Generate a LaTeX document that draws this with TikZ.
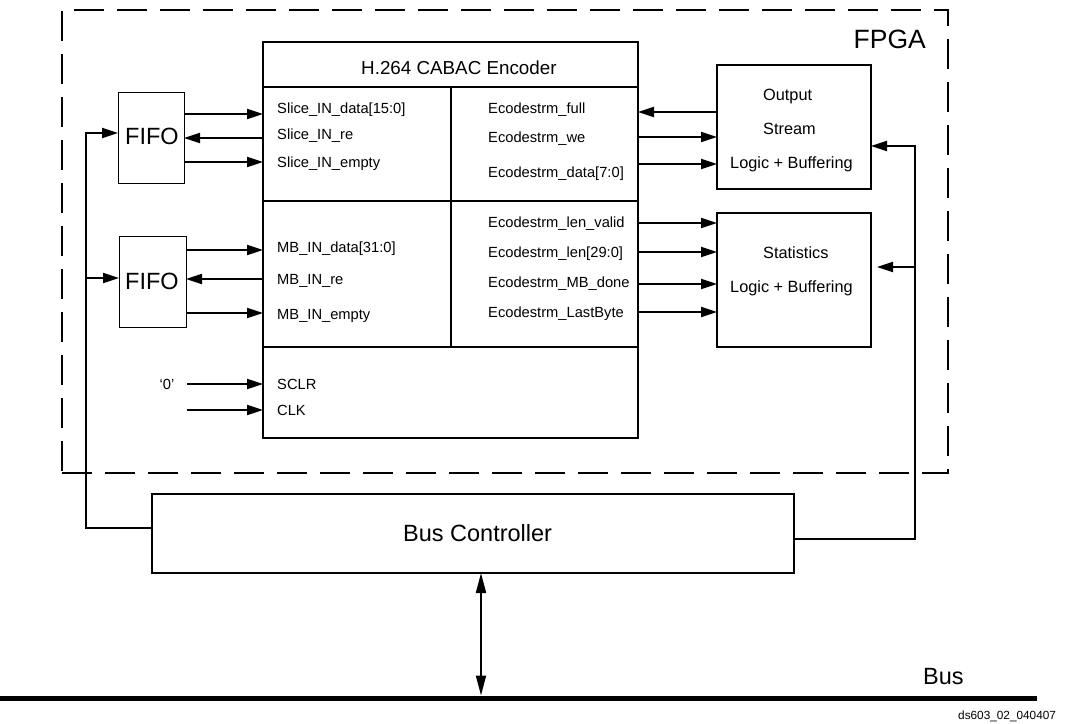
\documentclass[tikz,border=0pt]{standalone}
\usepackage{fontspec}
\setmainfont{Liberation Sans}
\usetikzlibrary{arrows.meta}
\begin{document}
\begin{tikzpicture}[x=1pt,y=-1pt,
  box/.style={draw,line width=1.3pt,inner sep=0pt,outer sep=0pt},
  fifobox/.style={draw,line width=1pt,inner sep=0pt,outer sep=0pt,minimum width=66pt,minimum height=91pt},
  sig/.style={line width=2pt,-{Triangle[length=16pt,width=10pt]}},
  dbl/.style={line width=2pt,{Triangle[length=20pt,width=10pt]}-{Triangle[length=20pt,width=10pt]}},
  lbl/.style={anchor=base west,inner sep=0pt,font=\fontsize{14.7}{16}\selectfont},
  blbl/.style={anchor=base west,inner sep=0pt,font=\fontsize{16.3}{18}\selectfont},
  big/.style={anchor=base west,inner sep=0pt,font=\fontsize{23.5}{26}\selectfont},
]
\useasboundingbox (0,0) rectangle (1073,723);

% FPGA dashed boundary
\node[draw,line width=2pt,dash pattern=on 30pt off 13pt,inner sep=0pt,outer sep=0pt,
      minimum width=886pt,minimum height=463pt] (fpga) at (505,241.5) {};
\node[anchor=base east,inner sep=0pt,font=\fontsize{26.5}{30}\selectfont] (fpgalbl) at (926,48) {FPGA};

% Boxes
\node[box,minimum width=375pt,minimum height=396pt] (enc) at (450.5,240) {};
\node[fifobox] (fifo1) at (151,137.5) {};
\node[fifobox,minimum width=67pt] (fifo2) at (152.5,281.5) {};
\node[box,minimum width=154pt,minimum height=124pt] (out) at (794,127) {};
\node[box,minimum width=154pt,minimum height=134pt] (stats) at (794,280) {};
\node[box,minimum width=642pt,minimum height=79pt] (busctl) at (473,533.5) {};

% Encoder internal divisions
\coordinate (h1) at (0,87);
\coordinate (h2) at (0,201);
\coordinate (h3) at (0,347);
\coordinate (vd) at (451,0);
\draw[line width=1.3pt] (enc.west |- h1) -- (enc.east |- h1);
\draw[line width=1.3pt] (enc.west |- h2) -- (enc.east |- h2);
\draw[line width=1.3pt] (enc.west |- h3) -- (enc.east |- h3);
\draw[line width=1.3pt] (vd |- h1) -- (vd |- h3);

% Titles / labels
\node[anchor=base west,inner sep=0pt,font=\fontsize{18.8}{22}\selectfont] (title) at (361,74) {H.264 CABAC Encoder};
\node[big] (f1lbl) at (125,144) {FIFO};
\node[big] (f2lbl) at (125,289) {FIFO};
\node[big] (bclbl) at (403,541) {Bus Controller};
\node[big] (buslbl) at (923,684) {Bus};
\node[anchor=base west,inner sep=0pt,font=\fontsize{11.8}{13}\selectfont] (id) at (958,719) {ds603\_02\_040407};

\node[lbl] (sd) at (277,113) {Slice\_IN\_data[15:0]};
\node[lbl] (sr) at (277,139) {Slice\_IN\_re};
\node[lbl] (se) at (277,167) {Slice\_IN\_empty};
\node[lbl] (md) at (277,252) {MB\_IN\_data[31:0]};
\node[lbl] (mr) at (277,284) {MB\_IN\_re};
\node[lbl] (me) at (277,319) {MB\_IN\_empty};
\node[lbl] (sclr) at (277,389.5) {SCLR};
\node[lbl] (clk) at (277,415) {CLK};
\node[lbl,anchor=base] (zero) at (167,389) {‘0’};

\node[lbl] (ef) at (488,113) {Ecodestrm\_full};
\node[lbl] (ew) at (488,142) {Ecodestrm\_we};
\node[lbl] (ed) at (488,177) {Ecodestrm\_data[7:0]};
\node[lbl] (elv) at (488,227) {Ecodestrm\_len\_valid};
\node[lbl] (el) at (488,257) {Ecodestrm\_len[29:0]};
\node[lbl] (emb) at (488,287) {Ecodestrm\_MB\_done};
\node[lbl] (elb) at (488,317) {Ecodestrm\_LastByte};

\node[blbl] (o1) at (763,100) {Output};
\node[blbl] (o2) at (763,134) {Stream};
\node[blbl] (o3) at (730,168) {Logic + Buffering};
\node[blbl] (s1) at (763,258) {Statistics};
\node[blbl] (s2) at (730,292) {Logic + Buffering};

% Rows for signal arrows
\coordinate (r1) at (0,114);
\coordinate (r2) at (0,138);
\coordinate (r3) at (0,162);
\coordinate (r4) at (0,250);
\coordinate (r5) at (0,279);
\coordinate (r6) at (0,313);
\draw[sig] (fifo1.east |- r1) -- (enc.west |- r1);
\draw[sig] (enc.west |- r2) -- (fifo1.east |- r2);
\draw[sig] (fifo1.east |- r3) -- (enc.west |- r3);
\draw[sig] (fifo2.east |- r4) -- (enc.west |- r4);
\draw[sig] (enc.west |- r5) -- (fifo2.east |- r5);
\draw[sig] (fifo2.east |- r6) -- (enc.west |- r6);

\coordinate (c0) at (187,384);
\coordinate (c1) at (187,410);
\draw[sig] (c0) -- (enc.west |- c0);
\draw[sig] (c1) -- (enc.west |- c1);

\coordinate (q1) at (0,112);
\coordinate (q2) at (0,137);
\coordinate (q3) at (0,164);
\coordinate (q4) at (0,223);
\coordinate (q5) at (0,252);
\coordinate (q6) at (0,284);
\coordinate (q7) at (0,312);
\draw[sig] (out.west |- q1) -- (enc.east |- q1);
\draw[sig] (enc.east |- q2) -- (out.west |- q2);
\draw[sig] (enc.east |- q3) -- (out.west |- q3);
\draw[sig] (enc.east |- q4) -- (stats.west |- q4);
\draw[sig] (enc.east |- q5) -- (stats.west |- q5);
\draw[sig] (enc.east |- q6) -- (stats.west |- q6);
\draw[sig] (enc.east |- q7) -- (stats.west |- q7);

% Left bus trunk
\coordinate (lb) at (86,528);
\coordinate (lt) at (86,133);
\coordinate (lm) at (86,278);
\draw[sig] (busctl.west |- lb) -- (lb) |- (fifo1.west |- lt);
\draw[sig] (lm) -- (fifo2.west |- lm);

% Right bus trunk
\coordinate (rb) at (915,539);
\coordinate (rt) at (915,146);
\coordinate (rm) at (915,267);
\coordinate (sa) at (877,267);
\draw[sig] (busctl.east |- rb) -- (rb) |- (out.east |- rt);
\draw[sig] (rm) -- (sa);

% System bus
\coordinate (busL) at (0,698);
\coordinate (busR) at (1037,698);
\draw[line width=5pt] (busL) -- (busR);
\coordinate (ba) at (481,695.5);
\draw[dbl] (busctl.south -| ba) -- (ba);
\end{tikzpicture}
\end{document}
